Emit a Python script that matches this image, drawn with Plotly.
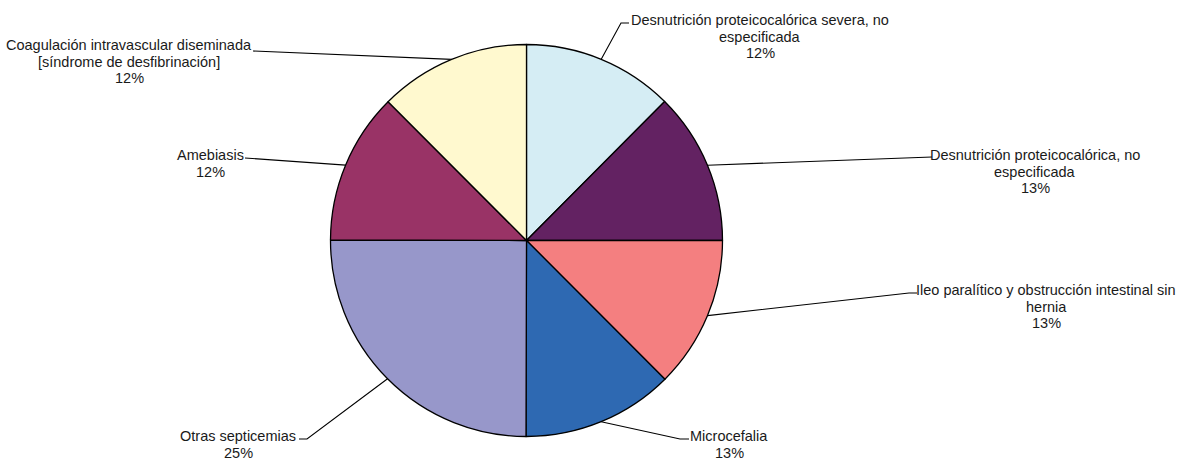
import math
import plotly.graph_objects as go

# ---- data ----
categories = [
    "Desnutrición proteicocalórica severa, no<br>especificada",
    "Desnutrición proteicocalórica, no<br>especificada",
    "Ileo paralítico y obstrucción intestinal sin<br>hernia",
    "Microcefalia",
    "Otras septicemias",
    "Amebiasis",
    "Coagulación intravascular diseminada<br>[síndrome de desfibrinación]",
]
values = [12.45, 12.55, 12.52, 12.52, 25.0, 12.48, 12.48]
colors = ["#D5EDF4", "#632262", "#F47F80", "#2E69B2", "#9797CA", "#993366", "#FFF9CF"]

# ---- layout constants (pixels) ----
W, H = 1179, 461
CX, CY, R = 526.5, 240.5, 196
LINE_H = 16.5
FONT_SIZE = 14.5
# label anchor: (text center x, first line center y, elbow x, elbow y, label-side end x)
label_pos = [
    (760, 20, 621, 23, 629),
    (1035, 155, 925, 157, 932),
    (1046, 290, 909, 293, 917),
    (729, 436, 680, 439, 689),
    (238, 436, 307, 439, 299),
    (210, 155, 251, 158, 245),
    (129, 45, 260, 51, 253),
]

total = sum(values)
fig = go.Figure()
fig.add_trace(go.Pie(
    labels=categories, values=values, sort=False, direction="clockwise",
    rotation=0, marker=dict(colors=colors, line=dict(color="#000000", width=1.3)),
    textinfo="none", hoverinfo="label+percent", showlegend=False,
    domain=dict(x=[(CX - R) / W, (CX + R) / W], y=[1 - (CY + R) / H, 1 - (CY - R) / H]),
))

cum = 0
annotations = []
for v, lab, (tx, ty, ex, ey, lx) in zip(values, categories, label_pos):
    mid = 2 * math.pi * (cum + v / 2) / total
    cum += v
    px = CX + R * math.sin(mid)
    py = CY - R * math.cos(mid)
    fig.add_trace(go.Scatter(x=[px, ex, lx], y=[py, ey, ey], mode="lines",
                             line=dict(color="#000000", width=1.1),
                             hoverinfo="skip", showlegend=False))
    pct = f"{round(v / total * 100)}%"
    lines = lab.split("<br>") + [pct]
    for i, t in enumerate(lines):
        annotations.append(dict(x=tx, y=ty + i * LINE_H, xref="x", yref="y", text=t,
                                showarrow=False, xanchor="center", yanchor="middle",
                                borderpad=0,
                                font=dict(size=FONT_SIZE, color="#1a1a1a",
                                          family="Liberation Sans, Arial")))

fig.update_layout(
    width=W, height=H, margin=dict(l=0, r=0, t=0, b=0),
    paper_bgcolor="white", plot_bgcolor="rgba(0,0,0,0)",
    xaxis=dict(range=[0, W], visible=False, fixedrange=True),
    yaxis=dict(range=[H, 0], visible=False, fixedrange=True),
    annotations=annotations,
)
fig.write_html("out.html", config={"displayModeBar": False},
               post_script="document.body.style.margin='0';document.body.style.overflow='hidden';")
